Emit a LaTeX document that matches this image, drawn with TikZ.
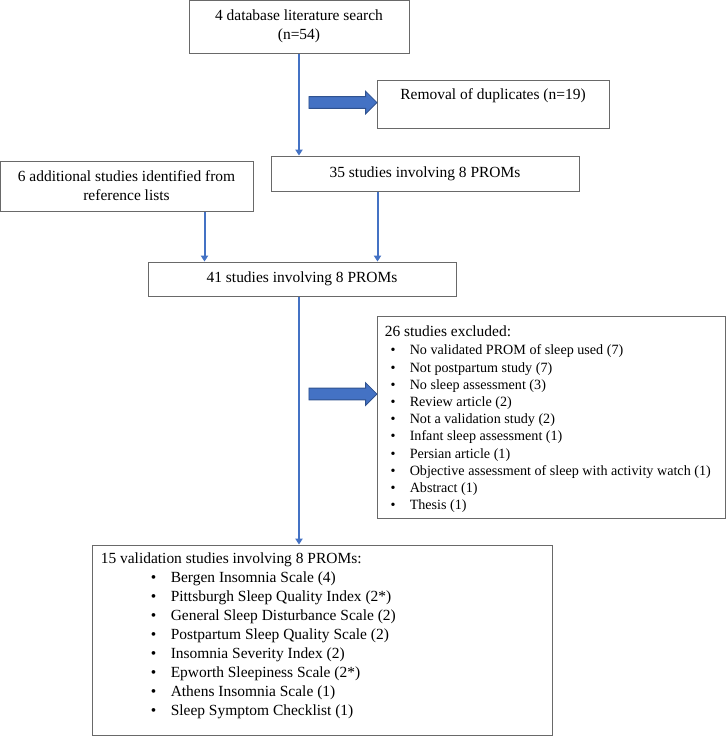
\documentclass[tikz,border=0pt]{standalone}
\usepackage{fontspec}
\setmainfont{Liberation Serif}
\usetikzlibrary{shapes.arrows, arrows.meta, calc}

\definecolor{officeblue}{RGB}{68,114,196}
\definecolor{officedark}{RGB}{47,82,143}
\definecolor{boxgray}{RGB}{105,105,105}

\newcommand{\flowfont}{\fontsize{11.6pt}{14.3pt}\selectfont}
\newcommand{\smallflowfont}{\fontsize{10.6pt}{13pt}\selectfont}

\begin{document}
\begin{tikzpicture}[x=0.75pt, y=-0.75pt,
	box/.style={draw=boxgray, line width=0.75pt, inner sep=0pt, align=center, font=\flowfont},
	listtext/.style={inner sep=0pt, anchor=base west, font=\flowfont},
	flow/.style={draw=officeblue, line width=1.5pt, -{Triangle[width=5.5pt,length=4.5pt]}},
	fatarrow/.style={single arrow, fill=officeblue, draw=officedark, line width=0.6pt,
		minimum height=51pt, inner xsep=0pt, inner ysep=4.1pt,
		single arrow head extend=4.1pt, single arrow tip angle=90}]
	
	\useasboundingbox (0,0) rectangle (728,736);
	
	%boxes
	\node[box, minimum width=165pt, minimum height=39.75pt] (search) at (299,26.5) {4 database literature search\\(n=54)};
	\node[box, minimum width=174pt, minimum height=36pt] (dupl) at (493,104) {Removal of duplicates (n=19)\\ \mbox{}};
	\node[box, minimum width=231pt, minimum height=26.25pt] (b35) at (425,173.5) {35 studies involving 8 PROMs};
	\node[box, minimum width=189.75pt, minimum height=37.5pt] (extra) at (126.5,186) {6 additional studies identified from\\reference lists};
	\node[box, minimum width=231pt, minimum height=25.5pt] (b41) at (302,279) {41 studies involving 8 PROMs};
	\node[box, minimum width=261pt, minimum height=151.5pt] (excl) at (551,417) {};
	\node[box, minimum width=345pt, minimum height=142.5pt] (final) at (322,640) {};
	
	%exclusion list
	\node[listtext] (exhead) at ([xshift=6pt,yshift=-16.1pt]excl.north west) {26 studies excluded:};
	\foreach \entry [count=\i] in {No validated PROM of sleep used (7), Not postpartum study (7),
		No sleep assessment (3), Review article (2), Not a validation study (2),
		Infant sleep assessment (1), Persian article (1),
		Objective assessment of sleep with activity watch (1), Abstract (1), Thesis (1)}
		\node[listtext, font=\smallflowfont] (ex\i) at ([xshift=4.3pt,yshift=-13.5pt-(\i-1)*12.9pt]exhead.base west) {\makebox[14.45pt][l]{\textbullet}\entry};
	
	%PROM list
	\node[listtext] (promhead) at ([xshift=6.75pt,yshift=-13.9pt]final.north west) {15 validation studies involving 8 PROMs:};
	\foreach \entry [count=\i] in {Bergen Insomnia Scale (4), Pittsburgh Sleep Quality Index (2*),
		General Sleep Disturbance Scale (2), Postpartum Sleep Quality Scale (2),
		Insomnia Severity Index (2), Epworth Sleepiness Scale (2*),
		Athens Insomnia Scale (1), Sleep Symptom Checklist (1)}
		\node[listtext] (prom\i) at ([xshift=37.5pt,yshift=-\i*14.3pt]promhead.base west) {\makebox[15pt][l]{\textbullet}\entry};
	
	%arrows
	\draw[flow] (search.south) -- (search.south |- b35.north);
	\draw[flow] ([xshift=-36.75pt]extra.south east) -- ([xshift=-36.75pt]extra.south east |- b41.north);
	\draw[flow] ([xshift=80.25pt]b35.south west) -- ([xshift=80.25pt]b35.south west |- b41.north);
	\draw[flow] (b41.south -| search.south) -- (search.south |- final.north);
	
	%block arrows
	\node[fatarrow] (duparrow) at (340,102.5) {};
	\node[fatarrow] (exclarrow) at (340,394) {};
\end{tikzpicture}
\end{document}
